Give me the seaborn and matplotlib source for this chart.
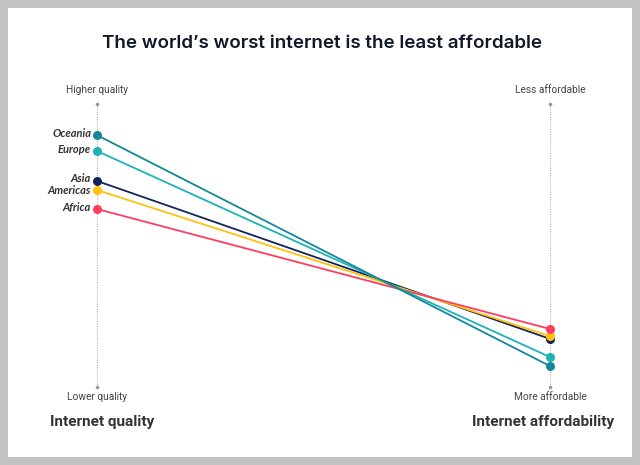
import matplotlib.pyplot as plt
import seaborn as sns
import pandas as pd
from matplotlib.patches import Rectangle

# data: position on each axis (0 = bottom, 100 = top)
regions = ["Asia", "Americas", "Africa", "Europe", "Oceania"]
quality = [72.8, 69.6, 62.9, 83.4, 89.0]
affordability = [17.0, 18.0, 20.5, 10.6, 7.4]
colors = ["#14245a", "#ffc10e", "#ff3d5e", "#1fb3b5", "#16879a"]

axis_names = ["Internet quality", "Internet affordability"]
top_labels = ["Higher quality", "Less affordable"]
bottom_labels = ["Lower quality", "More affordable"]

rows = []
for r, q, a in zip(regions, quality, affordability):
    rows.append({"region": r, "axis": 0, "value": q})
    rows.append({"region": r, "axis": 1, "value": a})
df = pd.DataFrame(rows)

sns.set_style("white")
plt.rcParams['font.family'] = ['Roboto', 'DejaVu Sans']

W, H = 640, 465
fig = plt.figure(figsize=(W / 100, H / 100), dpi=100, facecolor="#c3c3c3")
fig.patches.append(Rectangle((8 / W, 8 / H), 624 / W, 449 / H, transform=fig.transFigure,
                             facecolor="white", edgecolor="none", zorder=-5))

x0, x1, ytop, ybot = 97, 550, 104, 387
ax = fig.add_axes([x0 / W, (H - ybot) / H, (x1 - x0) / W, (ybot - ytop) / H])
ax.set_zorder(2)
ax.set_xlim(0, 1)
ax.set_ylim(0, 100)
ax.patch.set_alpha(0)
ax.axis("off")

# dotted axes
for xv in [0, 1]:
    ax.plot([xv, xv], [0, 100], color="#a0a0a0", linestyle=(0, (1, 1.5)), lw=0.7, clip_on=False, zorder=1)
    ax.plot([xv, xv], [0, 100], linestyle="none", marker="o", ms=1.6, color="#999999", clip_on=False, zorder=1)

sns.lineplot(data=df, x="axis", y="value", hue="region", hue_order=regions,
             palette=colors, marker="o", markersize=6.5, markeredgewidth=0,
             linewidth=1.3, legend=False, ax=ax, clip_on=False, zorder=3)

label_nudge = [0.9, -0.2, 0.4, 0.4, 0.4]
for r, q, d in zip(regions, quality, label_nudge):
    ax.text(-0.013, q + d, r, ha="right", va="center", fontsize=8.0, fontstyle="italic",
            fontweight="bold", color="#333333", family=["Lato", "DejaVu Sans"])

for xv, t, b in zip([0, 1], top_labels, bottom_labels):
    ax.text(xv, 105, t, ha="center", va="center", fontsize=7.3, color="#444444", clip_on=False)
    ax.text(xv, -3.5, b, ha="center", va="center", fontsize=7.3, color="#444444", clip_on=False)

fig.text(50 / W, 1 - 422 / H, axis_names[0], ha="left", va="center", fontsize=11,
         fontweight="bold", color="#333333")
fig.text(614 / W, 1 - 422 / H, axis_names[1], ha="right", va="center", fontsize=11,
         fontweight="bold", color="#333333")

fig.text(322 / W, 1 - 43 / H, "The world\u2019s worst internet is the least affordable",
         ha="center", va="center", fontsize=13.5, fontweight="semibold", color="#111827",
         family=["Inter", "DejaVu Sans"])

fig.savefig("out.png", dpi=100, facecolor=fig.get_facecolor())
